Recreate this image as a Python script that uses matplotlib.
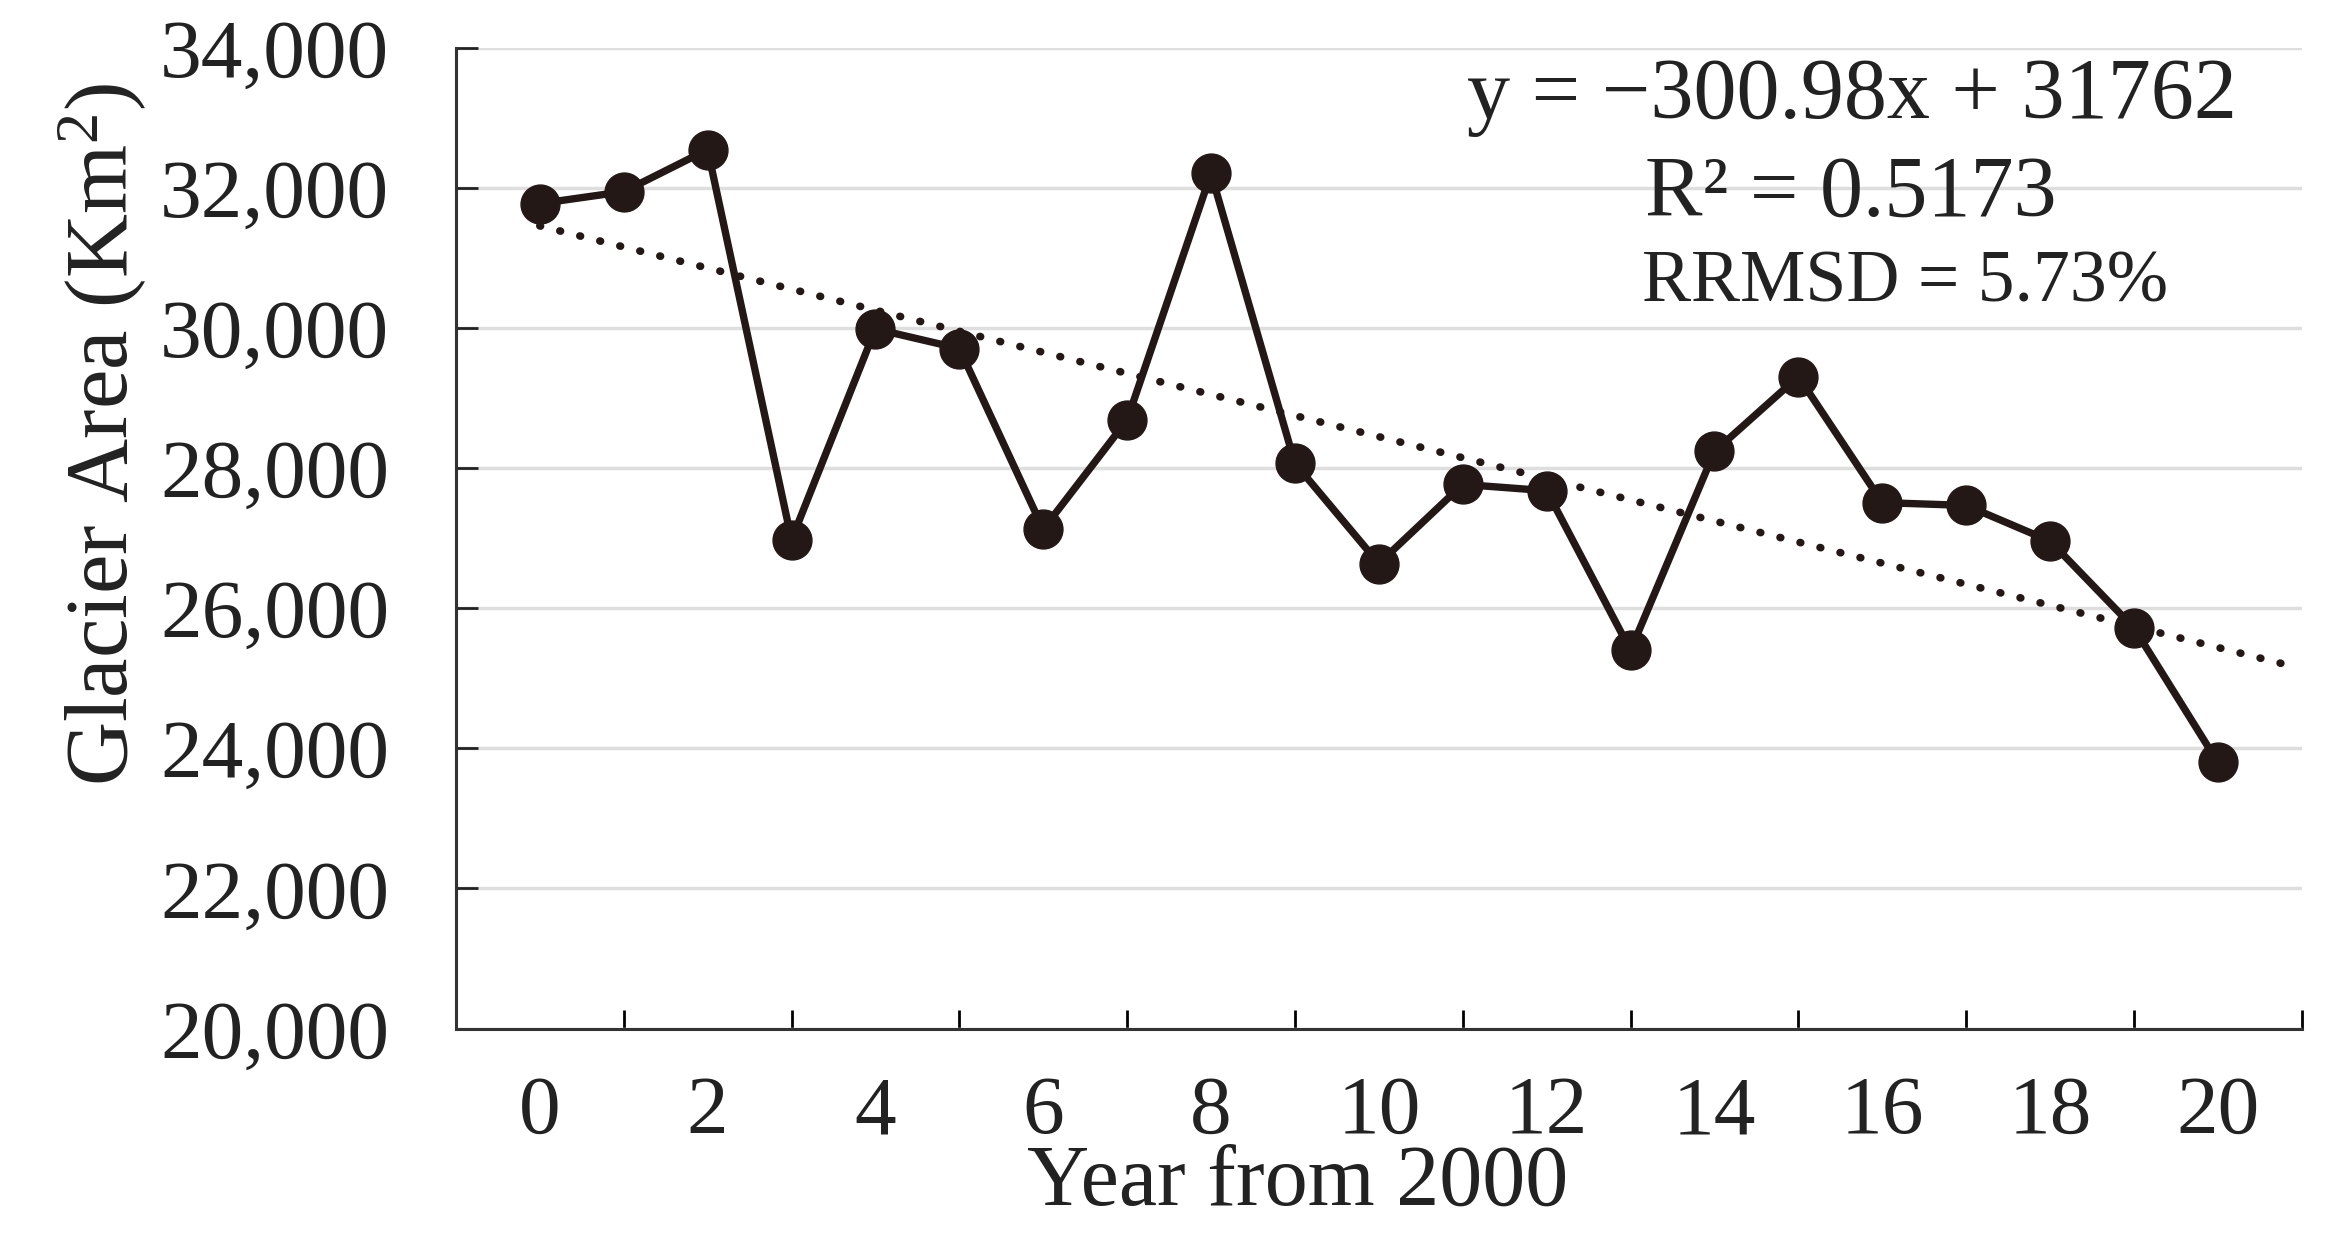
import matplotlib
matplotlib.use("Agg")
import matplotlib.pyplot as plt
from matplotlib.ticker import FixedLocator, FuncFormatter, NullFormatter

plt.rcParams['font.family'] = ['Liberation Serif', 'DejaVu Serif']
plt.rcParams['mathtext.fontset'] = 'custom'
plt.rcParams['mathtext.rm'] = 'Liberation Serif'
plt.rcParams['mathtext.it'] = 'Liberation Serif:italic'

# data
years = list(range(21))
area = [31780, 31950, 32550, 26980, 29990, 29710, 27130, 28690, 32210, 28070,
        26640, 27770, 27680, 25400, 28240, 29310, 27510, 27470, 26960, 25720, 23800]

# linear trend as written on the chart (Excel counts the first year as 1)
slope = -300.98
intercept = 31762
trend_x = [0, 20.8]

eq_text = "y = \u2212300.98x + 31762"
r2_text = "R\u00b2 = 0.5173"
rrmsd_text = "RRMSD = 5.73%"

y_ticks = list(range(20000, 34001, 2000))
x_labels = list(range(0, 21, 2))
x_tickmarks = list(range(-1, 22, 2))

col = '#231815'

fig = plt.figure(figsize=(23.44, 12.33), dpi=100)
ax = fig.add_axes([0.1945, 0.1658, 0.7875, 0.7952])

ax.plot(years, area, color=col, lw=5.3, marker='o', markersize=28, zorder=3)
trend_y = [slope * (x + 1) + intercept for x in trend_x]
ax.plot(trend_x, trend_y, color=col, lw=5.5, linestyle=(0, (0.1, 2.6)),
        dash_capstyle='round', zorder=4)

ax.set_xlim(-1, 21)
ax.set_ylim(20000, 34000)

ax.yaxis.set_major_locator(FixedLocator(y_ticks))
ax.yaxis.set_major_formatter(FuncFormatter(lambda v, p: f"{int(v):,}"))
ax.xaxis.set_major_locator(FixedLocator(x_tickmarks))
ax.xaxis.set_major_formatter(NullFormatter())
ax.xaxis.set_minor_locator(FixedLocator(x_labels))
ax.xaxis.set_minor_formatter(FuncFormatter(lambda v, p: f"{int(round(v))}"))

ax.tick_params(axis='y', direction='in', length=16, width=2, labelsize=60, pad=48, colors='#222222')
ax.tick_params(axis='x', which='major', direction='in', length=14, width=2)
ax.tick_params(axis='x', which='minor', length=0, labelsize=60, pad=34, labelcolor='#222222')

ax.grid(axis='y', color='#dedede', lw=2.5, zorder=0)
ax.set_axisbelow(True)
for s in ['top', 'right']:
    ax.spines[s].set_visible(False)
for s in ['left', 'bottom']:
    ax.spines[s].set_linewidth(2.2)
    ax.spines[s].set_color('#333333')

ax.set_xlabel("Year from 2000", fontsize=62, color='#222222')
ax.xaxis.set_label_coords(0.456, -0.118)
ax.set_ylabel("Glacier Area (Km$^2$)", fontsize=64, color='#222222', va='center')
ax.yaxis.set_label_coords(-0.192, 0.606)

ax.text(15.64, 33300, eq_text, fontsize=62, ha='center', va='center', color='#222222')
ax.text(15.62, 31910, r2_text, fontsize=62, ha='center', va='center', color='#222222')
ax.text(13.14, 30630, rrmsd_text, fontsize=53, ha='left', va='center', color='#222222')

fig.savefig("out.png", dpi=100, facecolor='white')
